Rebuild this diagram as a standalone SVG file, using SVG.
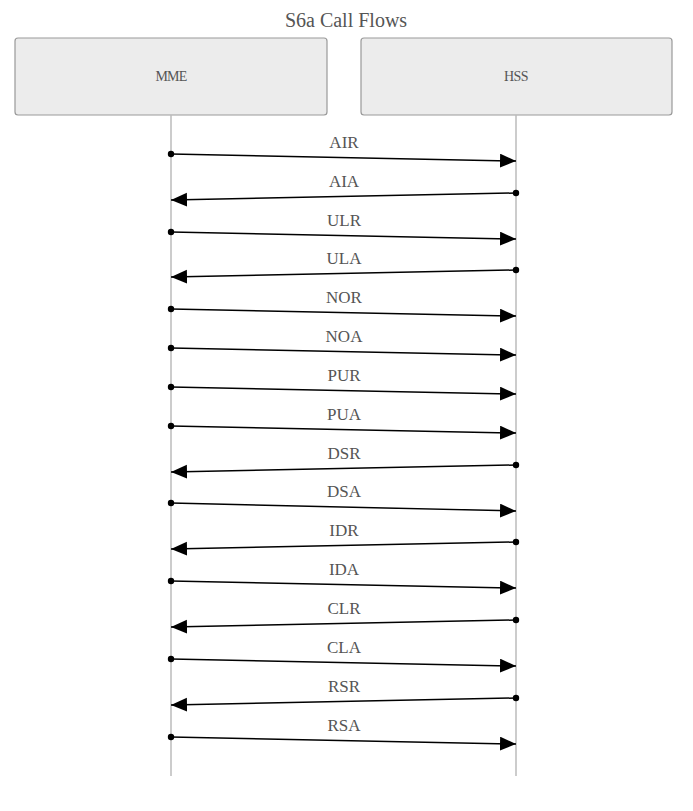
<svg xmlns="http://www.w3.org/2000/svg" width="693" height="811" viewBox="0 0 693 811">
<style>
text{font-family:"Liberation Serif","Times New Roman",serif;fill:#555;text-anchor:middle}
.box{fill:#ececec;stroke:#999;stroke-width:1.2}
.life{stroke:#bbb;stroke-width:1.5}
.m{stroke:#000;stroke-width:1.5;marker-end:url(#ah);marker-start:url(#dot)}
.lbl{font-size:17px}
</style>
<defs>
<marker id="ah" markerUnits="userSpaceOnUse" markerWidth="18" markerHeight="16" refX="16" refY="7" orient="auto"><path d="M0,0L16,7L0,14z" fill="#000"/></marker>
<marker id="dot" markerUnits="userSpaceOnUse" markerWidth="8" markerHeight="8" refX="4" refY="4"><circle cx="4" cy="4" r="3.2" fill="#000"/></marker>
</defs>
<rect width="693" height="811" fill="#fff"/>
<text x="346" y="27" style="font-size:20px">S6a Call Flows</text>
<g id="mme"><rect class="box" x="15" y="38" width="312" height="77" rx="3"/><text x="171" y="81" style="font-size:14px;letter-spacing:-0.8px">MME</text></g>
<g id="hss"><rect class="box" x="361" y="38" width="311" height="77" rx="3"/><text x="516" y="81" style="font-size:14px;letter-spacing:-0.6px">HSS</text></g>
<g id="lifelines"><line class="life" x1="171" y1="115" x2="171" y2="776"/><line class="life" x1="516" y1="115" x2="516" y2="776"/></g>
<g id="connectors">
<line class="m" x1="171" y1="154" x2="516" y2="161"/><text class="lbl" x="344" y="148">AIR</text>
<line class="m" x1="516" y1="193" x2="171" y2="200"/><text class="lbl" x="344" y="187">AIA</text>
<line class="m" x1="171" y1="232" x2="516" y2="239"/><text class="lbl" x="344" y="226">ULR</text>
<line class="m" x1="516" y1="270" x2="171" y2="277"/><text class="lbl" x="344" y="264">ULA</text>
<line class="m" x1="171" y1="309" x2="516" y2="316"/><text class="lbl" x="344" y="303">NOR</text>
<line class="m" x1="171" y1="348" x2="516" y2="355"/><text class="lbl" x="344" y="342">NOA</text>
<line class="m" x1="171" y1="387" x2="516" y2="394"/><text class="lbl" x="344" y="381">PUR</text>
<line class="m" x1="171" y1="426" x2="516" y2="433"/><text class="lbl" x="344" y="420">PUA</text>
<line class="m" x1="516" y1="465" x2="171" y2="472"/><text class="lbl" x="344" y="459">DSR</text>
<line class="m" x1="171" y1="503" x2="516" y2="511"/><text class="lbl" x="344" y="497">DSA</text>
<line class="m" x1="516" y1="542" x2="171" y2="549"/><text class="lbl" x="344" y="536">IDR</text>
<line class="m" x1="171" y1="581" x2="516" y2="588"/><text class="lbl" x="344" y="575">IDA</text>
<line class="m" x1="516" y1="620" x2="171" y2="627"/><text class="lbl" x="344" y="614">CLR</text>
<line class="m" x1="171" y1="659" x2="516" y2="666"/><text class="lbl" x="344" y="653">CLA</text>
<line class="m" x1="516" y1="698" x2="171" y2="705"/><text class="lbl" x="344" y="692">RSR</text>
<line class="m" x1="171" y1="737" x2="516" y2="744"/><text class="lbl" x="344" y="731">RSA</text>
</g>
</svg>
